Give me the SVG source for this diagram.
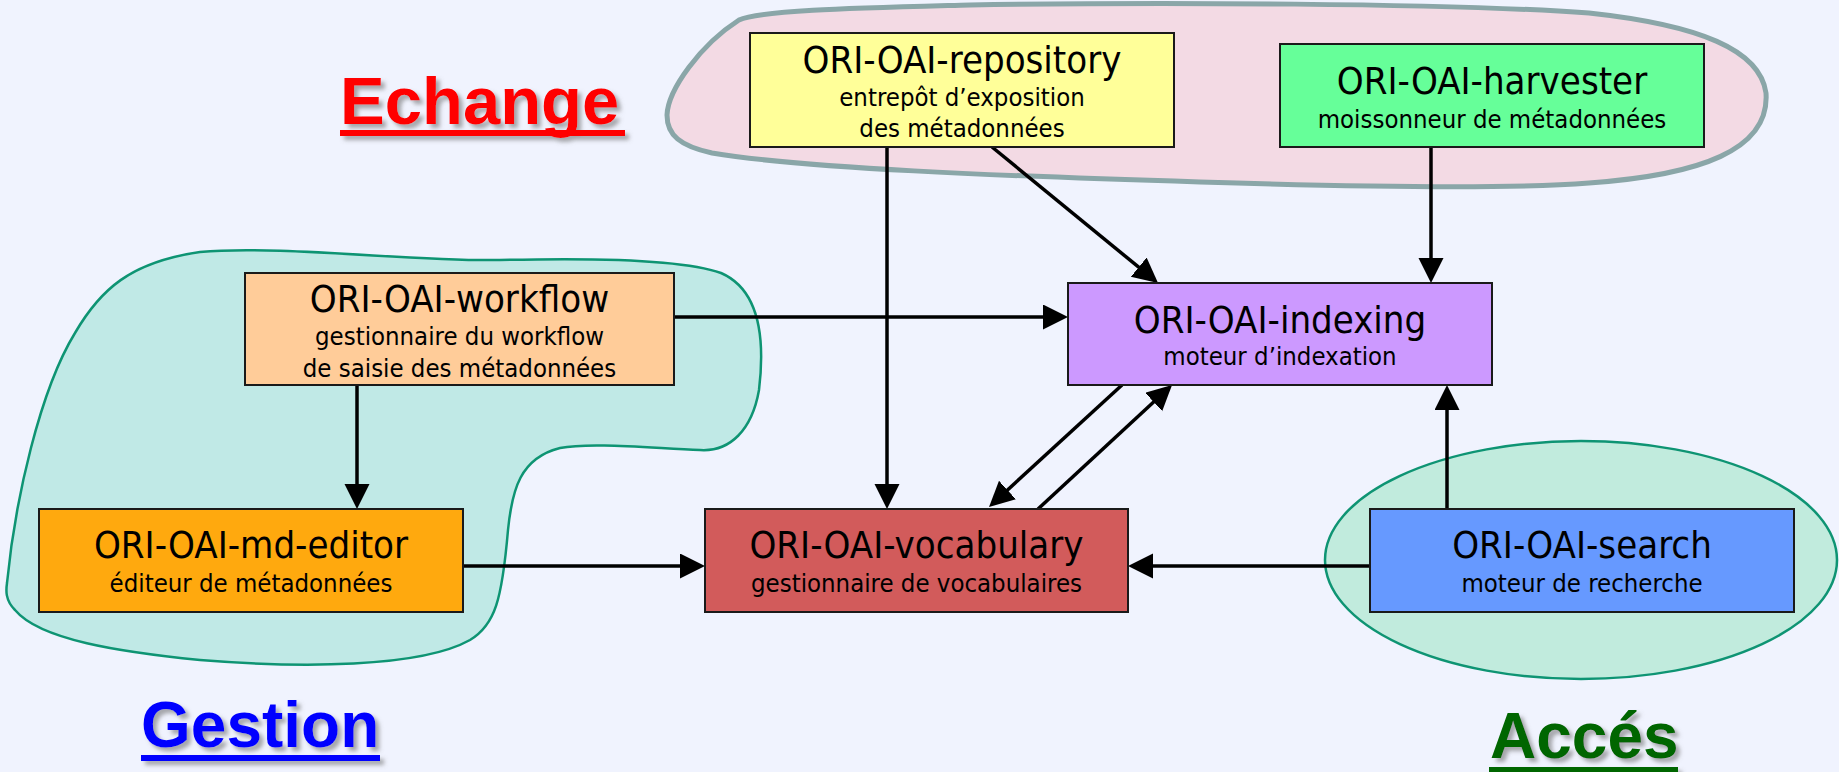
<svg xmlns="http://www.w3.org/2000/svg" width="1839" height="772" viewBox="0 0 1839 772">
<defs>
<style>
.box{stroke:#1a1a1a;stroke-width:2}
.t{font-family:"DejaVu Sans Condensed","DejaVu Sans",sans-serif;font-stretch:condensed;font-size:38px;fill:#000;text-anchor:middle}
.s{font-family:"DejaVu Sans Condensed","DejaVu Sans",sans-serif;font-stretch:condensed;font-size:25.5px;fill:#000;text-anchor:middle}
.lbl{font-family:"Liberation Sans",Arial,sans-serif;font-weight:bold}
.c{stroke:#000;stroke-width:3.5;fill:none;marker-end:url(#ah)}
</style>
<marker id="ah" markerUnits="userSpaceOnUse" markerWidth="26" markerHeight="26" refX="15" refY="12.5" orient="auto">
<path d="M0,0 L25,12.5 L0,25 Z" fill="#000"/>
</marker>
<filter id="sh" x="-10%" y="-20%" width="130%" height="150%">
<feDropShadow dx="4" dy="4" stdDeviation="2" flood-color="#707070" flood-opacity="0.6"/>
</filter>
</defs>
<rect width="1839" height="772" fill="#F0F3FE"/>
<g id="zones">
<path id="zone-echange" d="M667,115 C668,90 700,45 739,20 C760,10 860,8 970,5 C1150,2 1450,3 1589,13 C1700,25 1760,50 1766,93 C1770,150 1700,175 1589,183 C1500,190 1300,185 1200,182 C1000,176 800,168 712,153 C680,146 667,135 667,115 Z" fill="#F3DAE4" stroke="#8AA6A8" stroke-width="5"/>
<path id="zone-gestion" d="M7,583 C15,500 40,390 75,333 C100,290 130,262 200,252 C280,245 420,262 500,260 C580,258 680,258 721,273 C760,290 765,340 759,390 C752,430 730,452 700,450 C650,448 590,442 560,448 C520,458 512,490 508,530 C502,600 495,625 470,640 C420,668 300,668 200,660 C120,652 40,640 15,610 C5,600 6,590 7,583 Z" fill="#C0E9E6" stroke="#0E9473" stroke-width="2.5"/>
<ellipse id="zone-acces" cx="1581" cy="560" rx="256" ry="119" fill="#C1EBDD" stroke="#0E9473" stroke-width="2.5"/>
</g>
<g id="connectors">
<line class="c" x1="674" y1="317" x2="1058" y2="317"/>
<line class="c" x1="357" y1="385" x2="357" y2="499"/>
<line class="c" x1="463" y1="566" x2="695" y2="566"/>
<line class="c" x1="1370" y1="566" x2="1138" y2="566"/>
<line class="c" x1="1447" y1="509" x2="1447" y2="395"/>
<line class="c" x1="887" y1="147" x2="887" y2="499"/>
<line class="c" x1="992" y1="147" x2="1150.3" y2="276.7"/>
<line class="c" x1="1431" y1="147" x2="1431" y2="273"/>
<line class="c" x1="1122" y1="385" x2="996.4" y2="500.2"/>
<line class="c" x1="1038" y1="509" x2="1164.7" y2="391.8"/>
</g>
<g id="repository">
<rect class="box" x="750" y="33" width="424" height="114" fill="#FFFF99"/>
<text class="t" x="962" y="73">ORI-OAI-repository</text>
<text class="s" x="962" y="106">entrepôt d’exposition</text>
<text class="s" x="962" y="137">des métadonnées</text>
</g>
<g id="harvester">
<rect class="box" x="1280" y="44" width="424" height="103" fill="#66FF99"/>
<text class="t" x="1492" y="94">ORI-OAI-harvester</text>
<text class="s" x="1492" y="128">moissonneur de métadonnées</text>
</g>
<g id="workflow">
<rect class="box" x="245" y="273" width="429" height="112" fill="#FFCC99"/>
<text class="t" x="459.5" y="312">ORI-OAI-workflow</text>
<text class="s" x="459.5" y="345">gestionnaire du workflow</text>
<text class="s" x="459.5" y="377">de saisie des métadonnées</text>
</g>
<g id="indexing">
<rect class="box" x="1068" y="283" width="424" height="102" fill="#CC99FF"/>
<text class="t" x="1280" y="333">ORI-OAI-indexing</text>
<text class="s" x="1280" y="365">moteur d’indexation</text>
</g>
<g id="md-editor">
<rect class="box" x="39" y="509" width="424" height="103" fill="#FFA90E"/>
<text class="t" x="251" y="558">ORI-OAI-md-editor</text>
<text class="s" x="251" y="592">éditeur de métadonnées</text>
</g>
<g id="vocabulary">
<rect class="box" x="705" y="509" width="423" height="103" fill="#D25B5B"/>
<text class="t" x="916.5" y="558">ORI-OAI-vocabulary</text>
<text class="s" x="916.5" y="592">gestionnaire de vocabulaires</text>
</g>
<g id="search">
<rect class="box" x="1370" y="509" width="424" height="103" fill="#6699FF"/>
<text class="t" x="1582" y="558">ORI-OAI-search</text>
<text class="s" x="1582" y="592">moteur de recherche</text>
</g>
<g id="label-echange" filter="url(#sh)" fill="#FF0000">
<text class="lbl" x="340" y="124" font-size="67">Echange</text>
<rect x="340" y="130" width="285" height="6"/>
</g>
<g id="label-gestion" filter="url(#sh)" fill="#0000FF">
<text class="lbl" x="141" y="747" font-size="64">Gestion</text>
<rect x="141" y="755" width="239" height="6"/>
</g>
<g id="label-acces" filter="url(#sh)" fill="#006600">
<text class="lbl" x="1490" y="758" font-size="64">Accés</text>
<rect x="1489" y="767" width="189" height="6"/>
</g>
</svg>
